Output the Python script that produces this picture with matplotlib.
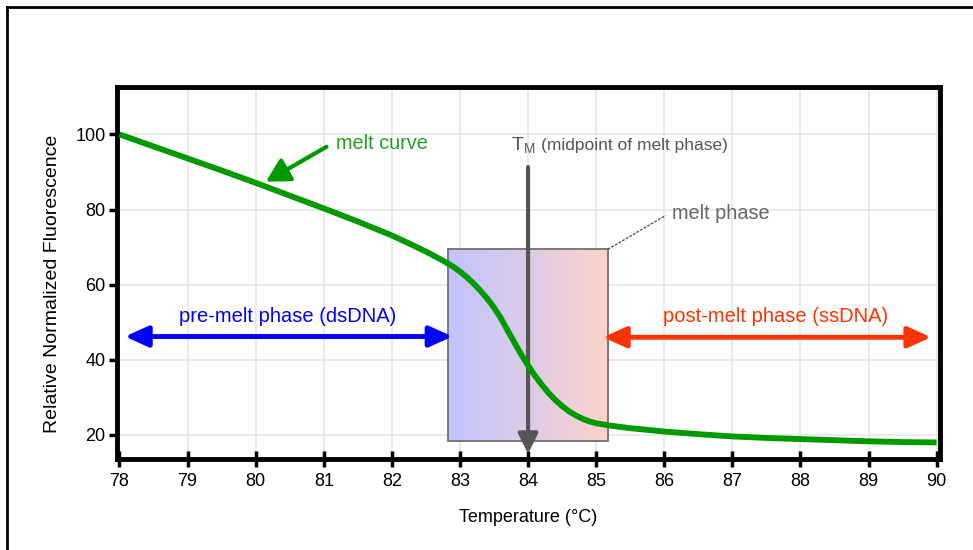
import numpy as np
import matplotlib.pyplot as plt
from matplotlib.colors import LinearSegmentedColormap
from matplotlib.patches import Rectangle
from matplotlib.lines import Line2D

plt.rcParams['font.family'] = ['Liberation Sans', 'DejaVu Sans']
plt.rcParams['mathtext.fontset'] = 'custom'
plt.rcParams['mathtext.rm'] = 'Liberation Sans'

# melt curve
temp = [78.0, 78.5, 79.0, 79.5, 80.0, 80.5, 81.0, 81.5, 82.0, 82.25, 82.5,
        82.75, 82.9, 83.0, 83.1, 83.2, 83.3, 83.4, 83.5, 83.6, 83.7, 83.8,
        83.9, 84.0, 84.1, 84.2, 84.3, 84.4, 84.5, 84.6, 84.7, 84.8, 84.9,
        85.0, 85.2, 85.5, 86.0, 86.5, 87.0, 87.5, 88.0, 88.5, 89.0, 89.5, 90.0]
fluor = [100.0, 96.8, 93.6, 90.4, 87.1, 83.7, 80.3, 76.8, 73.1, 71.0, 68.8,
         66.4, 64.8, 63.5, 62.0, 60.3, 58.4, 56.3, 53.9, 51.1, 47.8, 44.6,
         41.4, 38.5, 35.8, 33.4, 31.2, 29.3, 27.7, 26.3, 25.2, 24.3, 23.6,
         23.1, 22.5, 21.8, 20.9, 20.2, 19.6, 19.2, 18.9, 18.6, 18.3, 18.1, 18.0]

x_ticks = [78, 79, 80, 81, 82, 83, 84, 85, 86, 87, 88, 89, 90]
y_ticks = [20, 40, 60, 80, 100]

melt_lo, melt_hi = 82.82, 85.17
box_bottom, box_top = 18.3, 69.4
tm = 84.0

fig = plt.figure(figsize=(9.73, 5.5), dpi=100)
ax = fig.add_axes([0.12, 0.1655, 0.8461, 0.6769])

# melt phase box with blue -> salmon gradient
cmap = LinearSegmentedColormap.from_list('melt', ['#c3c3ff', '#dccbe6', '#ffd3c9'])
ax.imshow(np.linspace(0, 1, 256).reshape(1, -1), cmap=cmap, aspect='auto',
          extent=[melt_lo, melt_hi, box_bottom, box_top], zorder=2)
ax.add_patch(Rectangle((melt_lo, box_bottom), melt_hi - melt_lo, box_top - box_bottom,
                       fill=False, ec='#707070', lw=1.3, zorder=3))

ax.plot(temp, fluor, color='#009a00', lw=4.2, zorder=4,
        solid_capstyle='butt', solid_joinstyle='round')

# Tm marker
ax.annotate('', xy=(tm, 15.0), xytext=(tm, 91.3),
            arrowprops=dict(arrowstyle='-|>,head_length=1.0,head_width=0.5',
                            mutation_scale=12, color='#555555', lw=3,
                            shrinkA=0, shrinkB=0), zorder=3.5)
ax.text(83.75, 97.0, r'T$_\mathrm{M}$', fontsize=14, color='#555555',
        ha='left', va='center', zorder=5)
ax.text(84.19, 97.0, '(midpoint of melt phase)', fontsize=12.5, color='#555555',
        ha='left', va='center', zorder=5)

# melt curve label
ax.annotate('', xy=(80.15, 87.4), xytext=(81.04, 96.7),
            arrowprops=dict(arrowstyle='-|>,head_length=1.0,head_width=0.55',
                            mutation_scale=14, color='#009a00', lw=3,
                            shrinkA=0, shrinkB=0), zorder=5)
ax.text(81.18, 97.7, 'melt curve', fontsize=14.3, color='#22a022',
        ha='left', va='center', zorder=5)

# melt phase label with leader line
ax.plot([melt_hi, 86.02], [box_top, 78.4], color='#555555', lw=1,
        ls=(0, (2, 1)), zorder=5)
ax.text(86.12, 79.0, 'melt phase', fontsize=14.3, color='#666666',
        ha='left', va='center', zorder=5)

# pre / post melt ranges
ax.annotate('', xy=(melt_lo + 0.07, 46.2), xytext=(78.08, 46.2),
            arrowprops=dict(arrowstyle='<|-|>,head_length=1.0,head_width=0.45',
                            mutation_scale=14, color='#0000ff', lw=3.5,
                            shrinkA=0, shrinkB=0), zorder=5)
ax.text(80.47, 51.6, 'pre-melt phase (dsDNA)', fontsize=14.5, color='#0000ff',
        ha='center', va='center', zorder=5)
ax.annotate('', xy=(melt_hi - 0.07, 46.0), xytext=(89.92, 46.0),
            arrowprops=dict(arrowstyle='<|-|>,head_length=1.0,head_width=0.45',
                            mutation_scale=14, color='#ff3300', lw=3.5,
                            shrinkA=0, shrinkB=0), zorder=5)
ax.text(87.64, 51.6, 'post-melt phase (ssDNA)', fontsize=14.5, color='#ff3300',
        ha='center', va='center', zorder=5)

ax.set_xlim(77.96, 90.05)
ax.set_ylim(13.6, 112.7)
ax.set_xticks(x_ticks)
ax.set_yticks(y_ticks)
ax.tick_params(axis='x', direction='inout', length=12, width=2.5, labelsize=13,
               pad=4, colors='black')
ax.tick_params(axis='y', direction='out', length=6, width=2.5, labelsize=13, pad=2)
ax.grid(True, color='#e6e6e6', lw=1.2, zorder=0)
ax.set_axisbelow(True)
for s in ax.spines.values():
    s.set_linewidth(3.5)

ax.set_xlabel('Temperature (°C)', fontsize=13, labelpad=14)
ax.set_ylabel('Relative Normalized Fluorescence', fontsize=14)
ax.yaxis.set_label_coords(-0.068, 0.47)

# page frame, top and left edges
fig.add_artist(Line2D([7 / 973, 1], [1 - 7 / 550] * 2, color='black', lw=2,
                      transform=fig.transFigure))
fig.add_artist(Line2D([7 / 973] * 2, [0, 1 - 7 / 550], color='black', lw=2,
                      transform=fig.transFigure))

fig.savefig('out.png', dpi=100)
